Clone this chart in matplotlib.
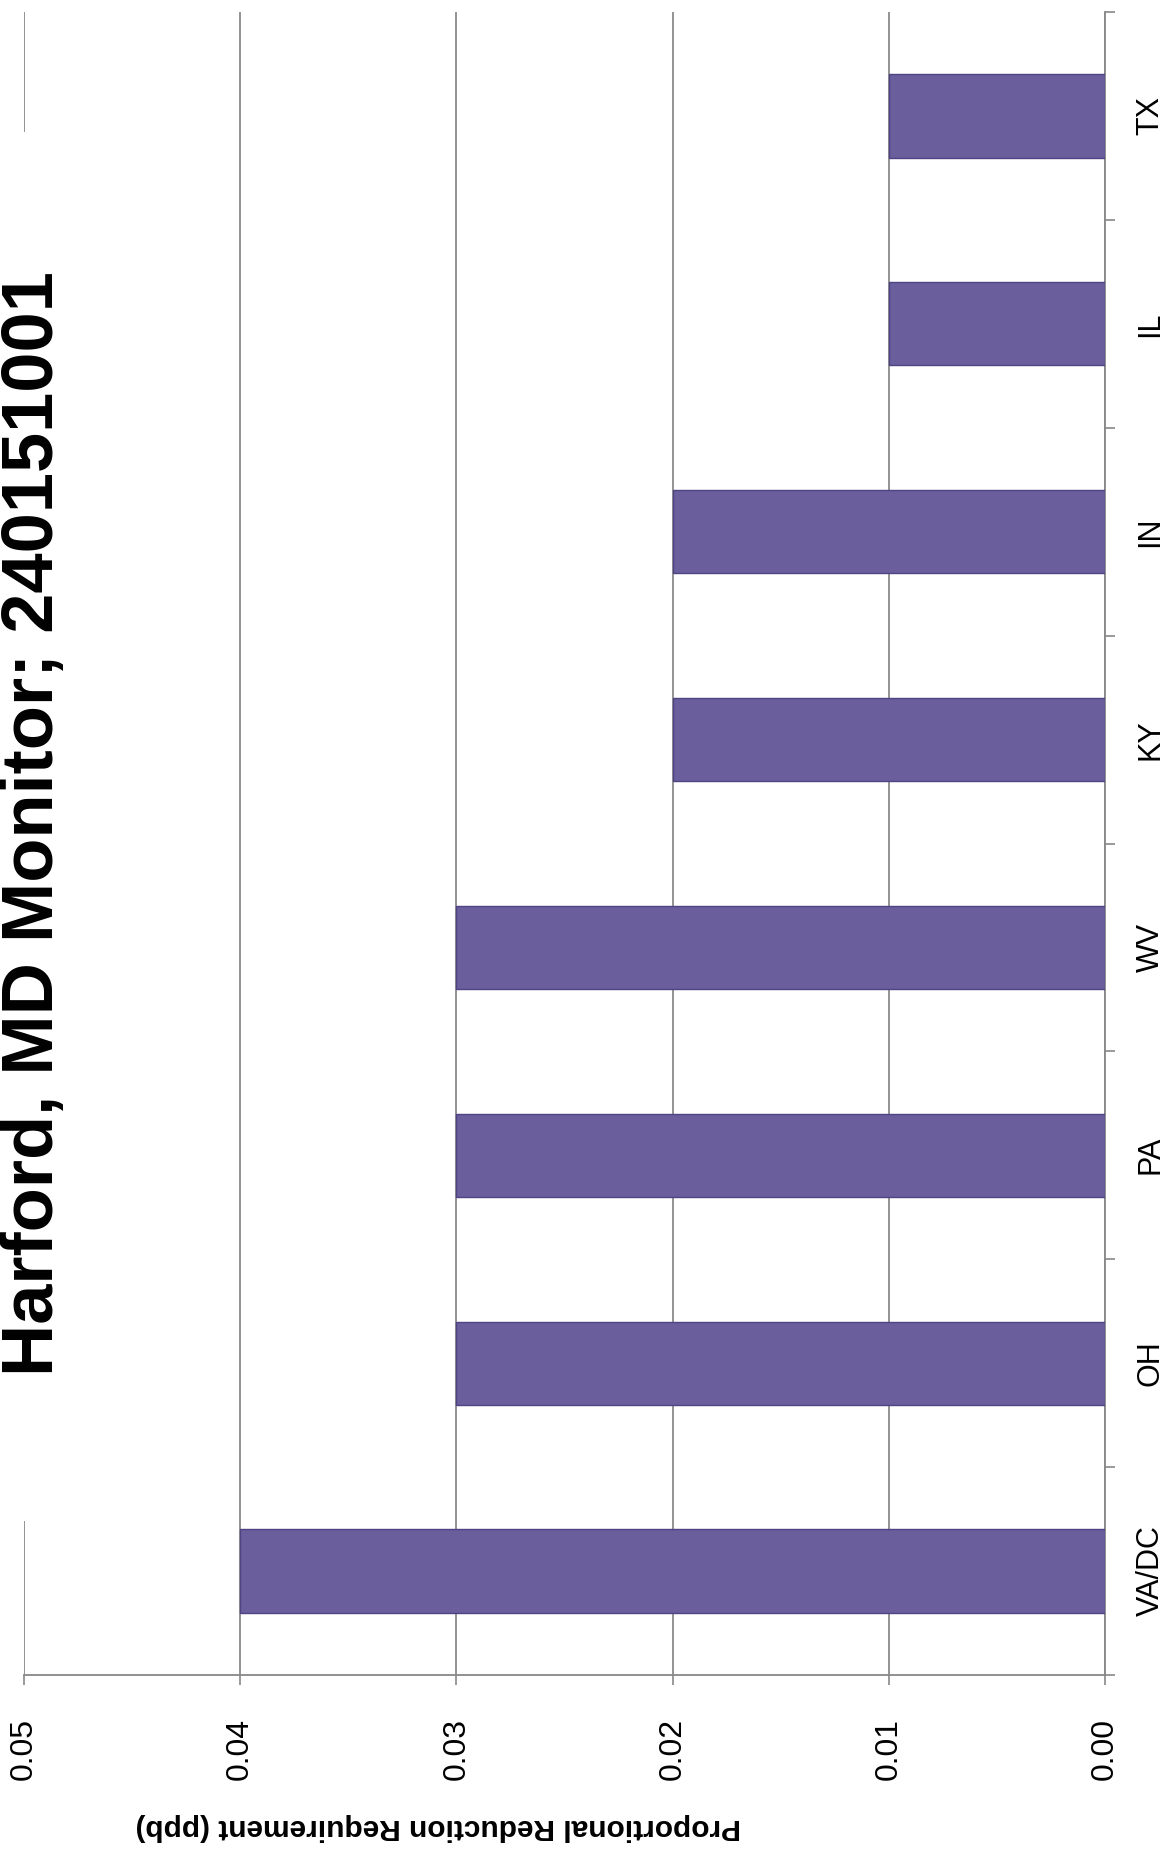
import matplotlib
matplotlib.use("Agg")  # headless backend
import matplotlib.pyplot as plt
import numpy as np
from matplotlib.patches import Rectangle

# data (page is rotated 90 degrees)
states = ["VA/DC", "OH", "PA", "WV", "KY", "IN", "IL", "TX"]
reduction_ppb = [0.04, 0.03, 0.03, 0.03, 0.02, 0.02, 0.01, 0.01]
value_ticks = [0.00, 0.01, 0.02, 0.03, 0.04, 0.05]
title = "Harford, MD Monitor; 240151001"
value_label = "Proportional Reduction Requirement (ppb)"

W, H = 1167, 1853
plt.rcParams["font.family"] = ["Liberation Sans", "DejaVu Sans"]

fig = plt.figure(figsize=(W / 100, H / 100), dpi=100)
fig.patch.set_facecolor("white")

# plot box in pixels
x0, x1, y_top, y_bot = 24, 1105, 12, 1675
ax = fig.add_axes([x0 / W, 1 - y_bot / H, (x1 - x0) / W, (y_bot - y_top) / H])

y = np.arange(len(states))
ax.barh(y, reduction_ppb, height=0.4, color="#6A5F9C", edgecolor="#4E4483",
        linewidth=1, zorder=3)

ax.set_xlim(0.05, 0.0)
ax.set_ylim(-0.5, len(states) - 0.5)

ax.set_xticks(value_ticks)
ax.set_xticklabels([f"{v:.2f}" for v in value_ticks], rotation=90, fontsize=23)
ax.tick_params(axis="x", length=7, width=1.2, color="#888888", pad=24)

ax.yaxis.tick_right()
ax.set_yticks(y)
ax.set_yticklabels(states, rotation=90, fontsize=22, va="center")
ax.set_yticks(np.arange(-0.5, len(states)), minor=True)
ax.tick_params(axis="y", which="major", length=0, pad=22)
ax.tick_params(axis="y", which="minor", length=7, width=1.2, color="#888888")

ax.grid(axis="x", color="#8a8a8a", linewidth=1.3, zorder=0)
for side in ["top", "left"]:
    ax.spines[side].set_visible(False)
for side in ["right", "bottom"]:
    ax.spines[side].set_color("#888888")
    ax.spines[side].set_linewidth(1.3)

# value-axis label, upside down on the scan
fig.text(438 / W, 1 - 1827 / H, value_label, rotation=180, ha="center",
         va="center", fontsize=21.5, fontweight="bold")

# title box hides the top gridline behind it
fig.add_artist(Rectangle((0, 1 - 1521 / H), 64 / W, (1521 - 132) / H,
                         transform=fig.transFigure, facecolor="white",
                         edgecolor="none", zorder=2))
fig.text(53 / W, 1 - 824 / H, title, rotation=90, rotation_mode="anchor",
         ha="center", va="baseline", fontsize=52, fontweight="bold", zorder=3)

plt.savefig("out.png", dpi=100)
plt.close()
print("Saved: out.png")
